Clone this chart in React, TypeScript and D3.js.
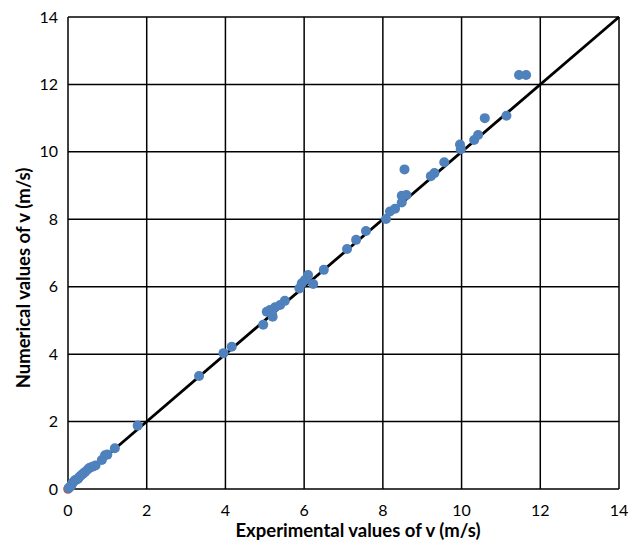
import React from "react";
import * as d3 from "d3";

const W = 629;
const H = 545;

const xTicks = [0, 2, 4, 6, 8, 10, 12, 14];
const yTicks = [0, 2, 4, 6, 8, 10, 12, 14];

const expX = [
  0.02, 0.05, 0.08, 0.1, 0.13, 0.17, 0.2, 0.25, 0.28, 0.33, 0.38, 0.43, 0.5, 0.55, 0.62, 0.7,
  0.86, 0.94, 1.0, 1.19, 1.77,
  3.33, 3.95, 4.16,
  4.96, 5.05, 5.13, 5.18, 5.2, 5.26, 5.39, 5.51,
  5.88, 5.94, 6.02, 6.1, 6.23, 6.5,
  7.09, 7.32, 7.57,
  8.08, 8.18, 8.31, 8.48, 8.48, 8.6, 8.55,
  9.22, 9.31, 9.56, 9.96, 9.98,
  10.32, 10.42, 10.59, 11.14, 11.46, 11.64,
];
const numY = [
  0.03, 0.06, 0.1, 0.15, 0.2, 0.25, 0.27, 0.3, 0.35, 0.4, 0.45, 0.5, 0.58, 0.63, 0.66, 0.7,
  0.86, 1.0, 1.02, 1.21, 1.88,
  3.35, 4.03, 4.22,
  4.87, 5.26, 5.31, 5.21, 5.11, 5.39, 5.46, 5.58,
  5.95, 6.1, 6.2, 6.35, 6.08, 6.5,
  7.12, 7.39, 7.65,
  8.01, 8.23, 8.31, 8.5, 8.7, 8.72, 9.48,
  9.28, 9.37, 9.69, 10.22, 10.08,
  10.35, 10.5, 11.0, 11.07, 12.28, 12.28,
];

const refX = [0];
const refY = [0];

const lineX = [0, 14];

export default function App() {
  const left = 68, right = 619, top = 17, bottom = 489;
  const x = d3.scaleLinear().domain([0, 14]).range([left, right]);
  const y = d3.scaleLinear().domain([0, 14]).range([bottom, top]);
  const font = "Lato, 'Open Sans', sans-serif";
  const line = d3.line<number>().x((d) => x(d)).y((d) => y(d));
  return (
    <svg width={W} height={H} style={{ position: "absolute", left: 0, top: 0, background: "#fff" }}>
      <rect x={0} y={0} width={W} height={H} fill="#fff" />
      {xTicks.map((t) => (
        <line key={"gx" + t} x1={x(t)} x2={x(t)} y1={top} y2={bottom} stroke="#000" strokeWidth={1.5} />
      ))}
      {yTicks.map((t) => (
        <line key={"gy" + t} x1={left} x2={right} y1={y(t)} y2={y(t)} stroke="#000" strokeWidth={1.5} />
      ))}
      {xTicks.map((t) => (
        <text key={"tx" + t} x={x(t)} y={516} textAnchor="middle" fontFamily={font} fontSize={16} fill="#000">
          {t}
        </text>
      ))}
      {yTicks.map((t) => (
        <text key={"ty" + t} x={58} y={y(t) + 5.5} textAnchor="end" fontFamily={font} fontSize={16} fill="#000">
          {t}
        </text>
      ))}
      {refX.map((v, i) => (
        <circle key={"r" + i} cx={x(v)} cy={y(refY[i])} r={4.8} fill="#C0504D" />
      ))}
      <path d={line(lineX) || ""} stroke="#000" strokeWidth={2.8} fill="none" />
      {expX.map((v, i) => (
        <circle key={"p" + i} cx={x(v)} cy={y(numY[i])} r={5} fill="#4F81BD" />
      ))}
      <text x={358} y={537} textAnchor="middle" fontFamily={font} fontWeight="bold" fontSize={18.5} fill="#000">
        Experimental values of v (m/s)
      </text>
      <text
        transform={`translate(30,278) rotate(-90)`}
        textAnchor="middle"
        fontFamily={font}
        fontWeight="bold"
        fontSize={18.5}
        fill="#000"
      >
        Numerical values of v (m/s)
      </text>
    </svg>
  );
}
